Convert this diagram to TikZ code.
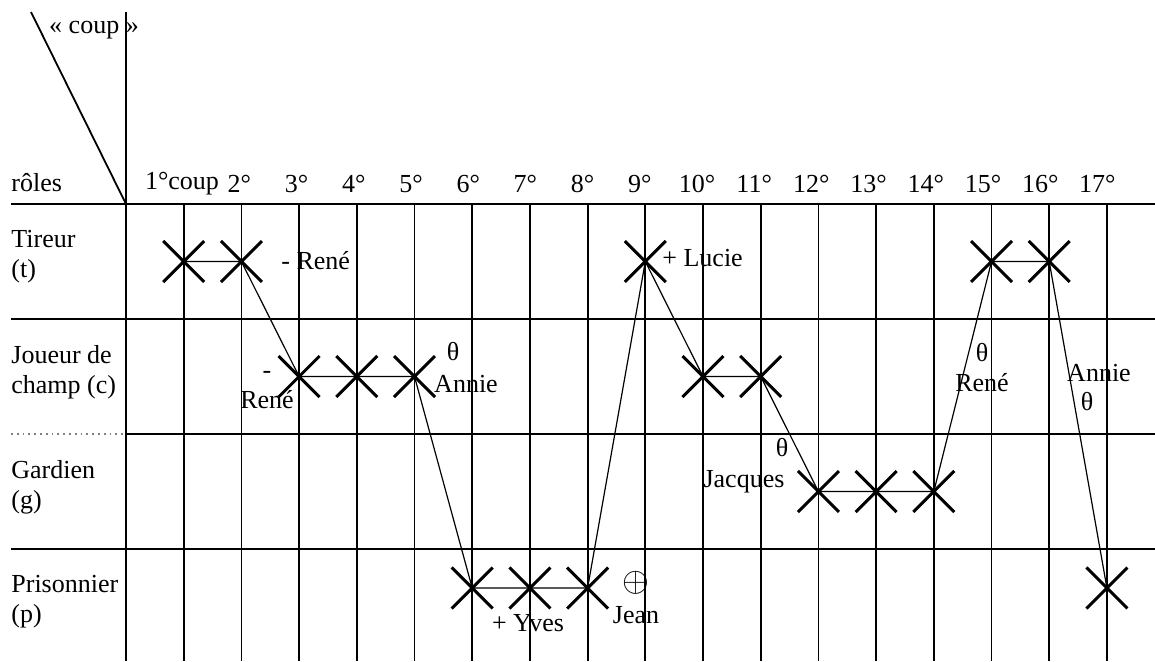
\documentclass[tikz,border=0pt]{standalone}
\usepackage{fontspec}
\setmainfont{Liberation Serif}
\usetikzlibrary{shapes.misc}

\tikzset{
  markx/.style={cross out, draw, line width=1.5pt, minimum size=19pt, inner sep=0pt},
  rule/.style={line width=0.9pt},
  link/.style={line width=0.6pt},
  lbl/.style={inner sep=0pt, font=\fontsize{13}{15}\selectfont}
}

\begin{document}
\begin{tikzpicture}[x=0.5pt, y=-0.5pt]
\useasboundingbox (0,0) rectangle (1155,661);
%\draw[help lines] (0,0) grid (1155,661);
% table
\draw[rule] (11,204) -- (1155,204);
\draw[rule] (11,319) -- (1155,319);
\draw[rule, dotted, gray] (11,434) -- (126,434);
\draw[rule] (126,434) -- (1155,434);
\draw[rule] (11,549) -- (1155,549);
\draw[rule] (126,12) -- (126,661);
\draw[rule] (31,12) -- (126,204);
\foreach \k in {1,...,17}
  \draw[rule] ({126+57.7*\k},204) -- ({126+57.7*\k},661);

% head
\node[lbl] (coup) at (94,30) {« coup »};
\node[lbl, anchor=west] (roles) at (11,183) {rôles};
\node[lbl] (h1) at (182,184) {1°coup};
\foreach \k in {2,...,17}
  \node[lbl] (h\k) at ({125+57.2*\k},184) {\k°};

% roles
\node[lbl, anchor=north west, align=left] (tireur) at (11,230) {Tireur\\(t)};
\node[lbl, anchor=north west, align=left] (joueur) at (11,345) {Joueur de\\champ (c)};
\node[lbl, anchor=north west, align=left] (gardien) at (11,460) {Gardien\\(g)};
\node[lbl, anchor=north west, align=left] (prison) at (11,575) {Prisonnier\\(p)};

% coups
\node[markx] (t1) at (183.7,261.5) {};
\node[markx] (t2) at (241.4,261.5) {};
\node[markx] (c3) at (299.1,376.5) {};
\node[markx] (c4) at (356.8,376.5) {};
\node[markx] (c5) at (414.5,376.5) {};
\node[markx] (p6) at (472.2,588) {};
\node[markx] (p7) at (529.9,588) {};
\node[markx] (p8) at (587.6,588) {};
\node[markx] (t9) at (645.3,261.5) {};
\node[markx] (c10) at (703,376.5) {};
\node[markx] (c11) at (760.7,376.5) {};
\node[markx] (g12) at (818.4,491.5) {};
\node[markx] (g13) at (876.1,491.5) {};
\node[markx] (g14) at (933.8,491.5) {};
\node[markx] (t15) at (991.5,261.5) {};
\node[markx] (t16) at (1049.2,261.5) {};
\node[markx] (p17) at (1106.9,588) {};

\draw[link] (t1.center) -- (t2.center) -- (c3.center) -- (c4.center)
  -- (c5.center) -- (p6.center) -- (p7.center) -- (p8.center)
  -- (t9.center) -- (c10.center) -- (c11.center) -- (g12.center)
  -- (g13.center) -- (g14.center) -- (t15.center) -- (t16.center)
  -- (p17.center);

% names
\node[lbl, anchor=west] (rene1) at (281,261) {- René};
\node[lbl, align=center] (rene2) at (267,390) {-\\René};
\node[lbl] (theta5) at (453,352) {θ};
\node[lbl] (annie5) at (466,384) {Annie};
\node[lbl, anchor=west] (lucie) at (662,258) {+ Lucie};
\node[lbl] (yves) at (528,623) {+ Yves};
\node[lbl] (oplus) at (636,583) {\fontsize{17}{17}\selectfont$\oplus$};
\node[lbl] (jean) at (636,615) {Jean};
\node[lbl] (theta12) at (782,448) {θ};
\node[lbl] (jacques) at (744,482) {Jacques};
\node[lbl, align=center] (rene15) at (982,368) {θ\\René};
\node[lbl] (annie17) at (1099,373) {Annie};
\node[lbl] (theta17) at (1087,402) {θ};
\end{tikzpicture}
\end{document}
